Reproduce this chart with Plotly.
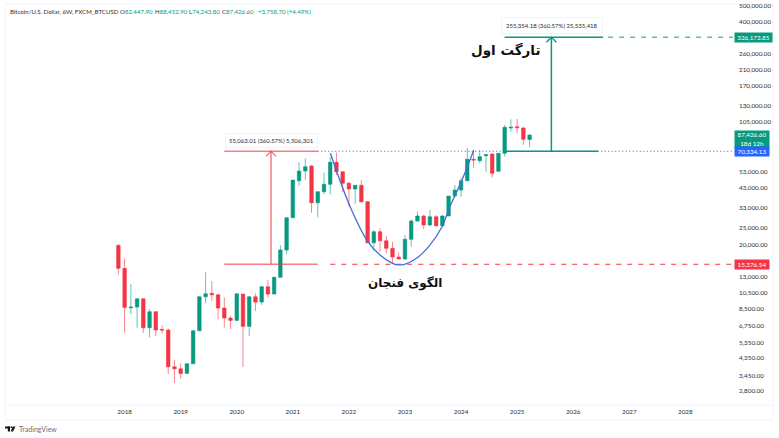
import plotly.graph_objects as go

# candles, one every 6 weeks
open_ = [19835, 14560, 8565, 8647, 9670, 6545, 8117, 6406, 6345, 3873, 3770, 3543, 4032, 6285, 9933, 10400, 10200,
         8531, 7458, 7230, 10300, 6670, 9933, 9248, 11368, 10300, 12900, 18620, 28758, 47310, 53910, 57660, 35190,
         40810, 45075, 60590, 53400, 45690, 42315, 44475, 35665, 20540, 23820, 21100, 19050, 16950, 16500, 21505,
         27500, 29430, 26070, 29150, 25820, 29430, 38515, 41750, 47310, 63100, 61910, 66230, 67760, 53690, 68410,
         96150, 97840, 96150, 82447.9]
high = [20100, 16650, 11790, 9720, 9700, 8417, 8195, 6788, 6493, 4238, 4054, 4054, 6345, 10030, 13800, 12275, 10300,
        9854, 7661, 10400, 10300, 10030, 10400, 11476, 12440, 13003, 19915, 29035, 47760, 60590, 63960, 58440, 40810,
        52690, 65350, 68960, 53400, 46680, 44655, 47760, 36000, 24370, 24935, 22480, 20820, 18050, 22785, 28150,
        31180, 29825, 31900, 29825, 29825, 38515, 44655, 48870, 73170, 71510, 71510, 67760, 68410, 68410, 100100,
        108100, 108500, 97840, 88452.9]
low = [13430, 6120, 7870, 6545, 6120, 5750, 5853, 6013, 3510, 3122, 3313, 3543, 4032, 6260, 9088, 9373, 7328,
       6545, 6432, 7230, 3857, 5853, 8195, 8918, 9800, 10300, 12900, 17645, 28650, 44235, 47760, 30760, 28920,
       39400, 39400, 51090, 40640, 33345, 34580, 35190, 20375, 18445, 18200, 17810, 15376, 16500, 16280, 19465,
       27250, 24700, 25820, 25480, 25480, 29430, 38000, 38150, 47120, 55900, 59790, 53400, 49260, 53400, 65350,
       91470, 89530, 76490, 74243.8]
close = [14560, 8610, 8647, 9670, 6545, 8117, 6345, 6345, 3873, 3770, 3543, 4032, 6285, 9933, 10340, 10200, 8531,
         7458, 7230, 10340, 6670, 9933, 9248, 11368, 10300, 12900, 18620, 28758, 47760, 53910, 57110, 35190, 40810,
         45075, 60590, 53400, 45690, 42315, 44475, 35665, 20540, 23820, 21100, 19050, 16950, 16500, 21505, 27500,
         29430, 26070, 29150, 25820, 29430, 38515, 41750, 47310, 63100, 62500, 65350, 67130, 52270, 68410, 97060,
         97060, 96520, 82580, 87426.6]
bars = list(range(len(open_)))

year_bars = [1, 10, 19, 28, 37, 46, 55, 64, 73, 82, 91]
year_labels = ["2018", "2019", "2020", "2021", "2022", "2023", "2024", "2025", "2026", "2027", "2028"]

price_ticks = [500000, 400000, 260000, 210000, 170000, 130000, 105000, 53000, 43000, 33000, 25000, 20000, 16000,
               13000, 10500, 8500, 6750, 5350, 4350, 3450, 2800]
price_labels = [f"{p:,.2f}" for p in price_ticks]

neck = 70334.13
bottom = 15376.54
target = 326173.85
last = 87426.60

# cup curve hand drawn on the chart
cup_bars = [34.03, 35.05, 37.2, 39.87, 42, 44.4, 45.75, 47.9, 50, 51.95, 53.1, 55.15, 57.05]
cup_prices = [68410, 53400, 33345, 21300, 17410, 15376, 15320, 16720, 19915, 25480, 32640, 47760, 71510]

TEAL = "#089981"
RED = "#f23645"
BLUE = "#2962ff"
RED_SOFT = "rgba(242,54,69,0.65)"
FONT = "Lato"
TEXT = "#2a2e39"
FRAME = "#f0f3fa"

W, H = 779, 438
LEFT, RIGHT, TOP, BOTTOM = 5, 733, 5, 405


def xp(x):
    return (x - LEFT) / (RIGHT - LEFT)


def yp(y):
    return (BOTTOM - y) / (BOTTOM - TOP)


fig = go.Figure()

fig.add_trace(go.Candlestick(
    x=bars, open=open_, high=high, low=low, close=close,
    increasing=dict(line=dict(color="rgba(8,153,129,0.6)", width=1), fillcolor=TEAL),
    decreasing=dict(line=dict(color="rgba(242,54,69,0.6)", width=1), fillcolor=RED),
    whiskerwidth=0, showlegend=False,
))


def line(xs, ys, color, width=1.5, dash="solid"):
    fig.add_trace(go.Scatter(x=xs, y=ys, mode="lines", line=dict(color=color, width=width, dash=dash),
                             showlegend=False, hoverinfo="skip"))


def head(x, y, color):
    # open arrow head, about 5px tall on this log scale
    line([x - 0.8, x, x + 0.8], [y * 0.935, y, y * 0.935], color, 1.3)


# long position box on the left
line([17, 32], [neck, neck], RED_SOFT)
line([17, 32], [bottom, bottom], RED_SOFT)
line([24.5, 24.5], [bottom, neck], RED_SOFT)
head(24.5, neck, RED_SOFT)

# neckline and the dashed levels
line([32, 99], [neck, neck], BLUE, 1, "1px,2.5px")
line([34, 99], [bottom, bottom], RED, 1, "5px,6px")
line([78.6, 99], [target, target], TEAL, 1, "5px,6px")

# measured move up to the target
line([62, 77], [neck, neck], TEAL)
line([62, 77.8], [target, target], TEAL)
line([69.5, 69.5], [neck, target], TEAL)
head(69.5, target, TEAL)

fig.add_trace(go.Scatter(x=cup_bars, y=cup_prices, mode="lines", showlegend=False, hoverinfo="skip",
                         line=dict(color="#3f6fd8", width=1.3, shape="spline")))

notes = []


def note(text, x, y, size=6.3, color=TEXT, anchor="left", **kw):
    notes.append(dict(text=text, x=xp(x), y=yp(y), xref="paper", yref="paper", showarrow=False, xanchor=anchor,
                      yanchor="middle", borderpad=kw.pop("borderpad", 0),
                      font=dict(family=kw.pop("family", FONT), size=size, color=color), **kw))


def tag(text, x, y, w, h, color, size=6.3):
    notes.append(dict(text=text, x=xp(x), y=yp(y), xref="paper", yref="paper", showarrow=False, xanchor="left",
                      yanchor="middle", width=w, height=h, align="center", bgcolor=color, borderpad=0,
                      font=dict(family=FONT, size=size, color="white")))


def g(s):
    return f'<span style="color:{TEAL}">{s}</span>'


note("Bitcoin/U.S. Dollar, 6W, FXCM_BTCUSD", 9, 12, size=6.1)
note("O" + g("82,447.90"), 119, 12, size=6.1)
note("H" + g("88,452.90"), 153.5, 12, size=6.1)
note("L" + g("74,243.80"), 187.5, 12, size=6.1)
note("C" + g("87,426.60"), 221, 12, size=6.1)
note(g("+3,758.70 (+4.49%)"), 257, 12, size=6.1)
note("55,063.01 (360.57%) 5,506,301", 271, 140.5, size=6, anchor="center", bgcolor="white", borderpad=3,
     bordercolor=FRAME, borderwidth=1)
note("255,354.18 (360.57%) 25,535,418", 552, 26, size=6, anchor="center", bgcolor="white", borderpad=4,
     bordercolor=FRAME, borderwidth=1)
note("<b>تارگت اول</b>", 505, 50, size=13.5, color="#111111", anchor="center", family="DejaVu Sans")
note("<b>الگوی فنجان</b>", 405, 283, size=12, color="#111111", anchor="center", family="DejaVu Sans")

tag("326,173.85", 734, 37.5, 37, 9, TEAL)
tag("87,426.60<br>18d 12h", 734, 139, 34, 16, TEAL)
tag("70,334.13", 734, 151.7, 34, 9, BLUE)
tag("15,376.54", 734, 264.7, 34, 9, RED)
note("TradingView", 18, 429, size=7, color="#6a6d78")

# chart frame and logo
shapes = [
    dict(type="rect", xref="paper", yref="paper", x0=0, x1=xp(773), y0=yp(420), y1=yp(TOP - 1),
         line=dict(color=FRAME, width=1), layer="below"),
    dict(type="line", xref="paper", yref="paper", x0=0, x1=xp(773), y0=0, y1=0, line=dict(color=FRAME, width=1),
         layer="below"),
    dict(type="rect", xref="paper", yref="paper", x0=xp(5), x1=xp(10), y0=yp(426.5), y1=yp(428.5),
         fillcolor="#131722", line_width=0),
    dict(type="rect", xref="paper", yref="paper", x0=xp(7.8), x1=xp(10), y0=yp(426.5), y1=yp(431.5),
         fillcolor="#131722", line_width=0),
    dict(type="rect", xref="paper", yref="paper", x0=xp(10.6), x1=xp(12), y0=yp(426.5), y1=yp(428),
         fillcolor="#131722", line_width=0),
    dict(type="path", xref="paper", yref="paper", fillcolor="#131722", line_width=0,
         path=f"M {xp(12.6)} {yp(426.5)} L {xp(15.5)} {yp(426.5)} L {xp(13)} {yp(431.5)} L {xp(10.8)} {yp(431.5)} Z"),
]

fig.update_layout(
    width=W, height=H, autosize=False,
    margin=dict(l=LEFT, r=W - RIGHT, t=TOP, b=H - BOTTOM),
    paper_bgcolor="white", plot_bgcolor="white",
    showlegend=False, annotations=notes, shapes=shapes, boxgap=0.2,
    font=dict(family=FONT, size=6.3, color=TEXT),
)
fig.update_xaxes(range=[-18.2, 98.65], tickvals=year_bars, ticktext=year_labels, showgrid=False, zeroline=False,
                 showline=False, ticks="", rangeslider_visible=False, automargin=False, ticklabelstandoff=2,
                 tickfont=dict(size=6.3, color=TEXT))
fig.update_yaxes(type="log", range=[3.3649, 5.7014], side="right", tickvals=price_ticks, ticktext=price_labels,
                 showgrid=False, zeroline=False, showline=False, ticks="", ticklabelstandoff=5, automargin=False,
                 tickfont=dict(size=6.3, color=TEXT))

fig.write_html("out.html", post_script="document.body.style.margin='0';", config=dict(displayModeBar=False))
